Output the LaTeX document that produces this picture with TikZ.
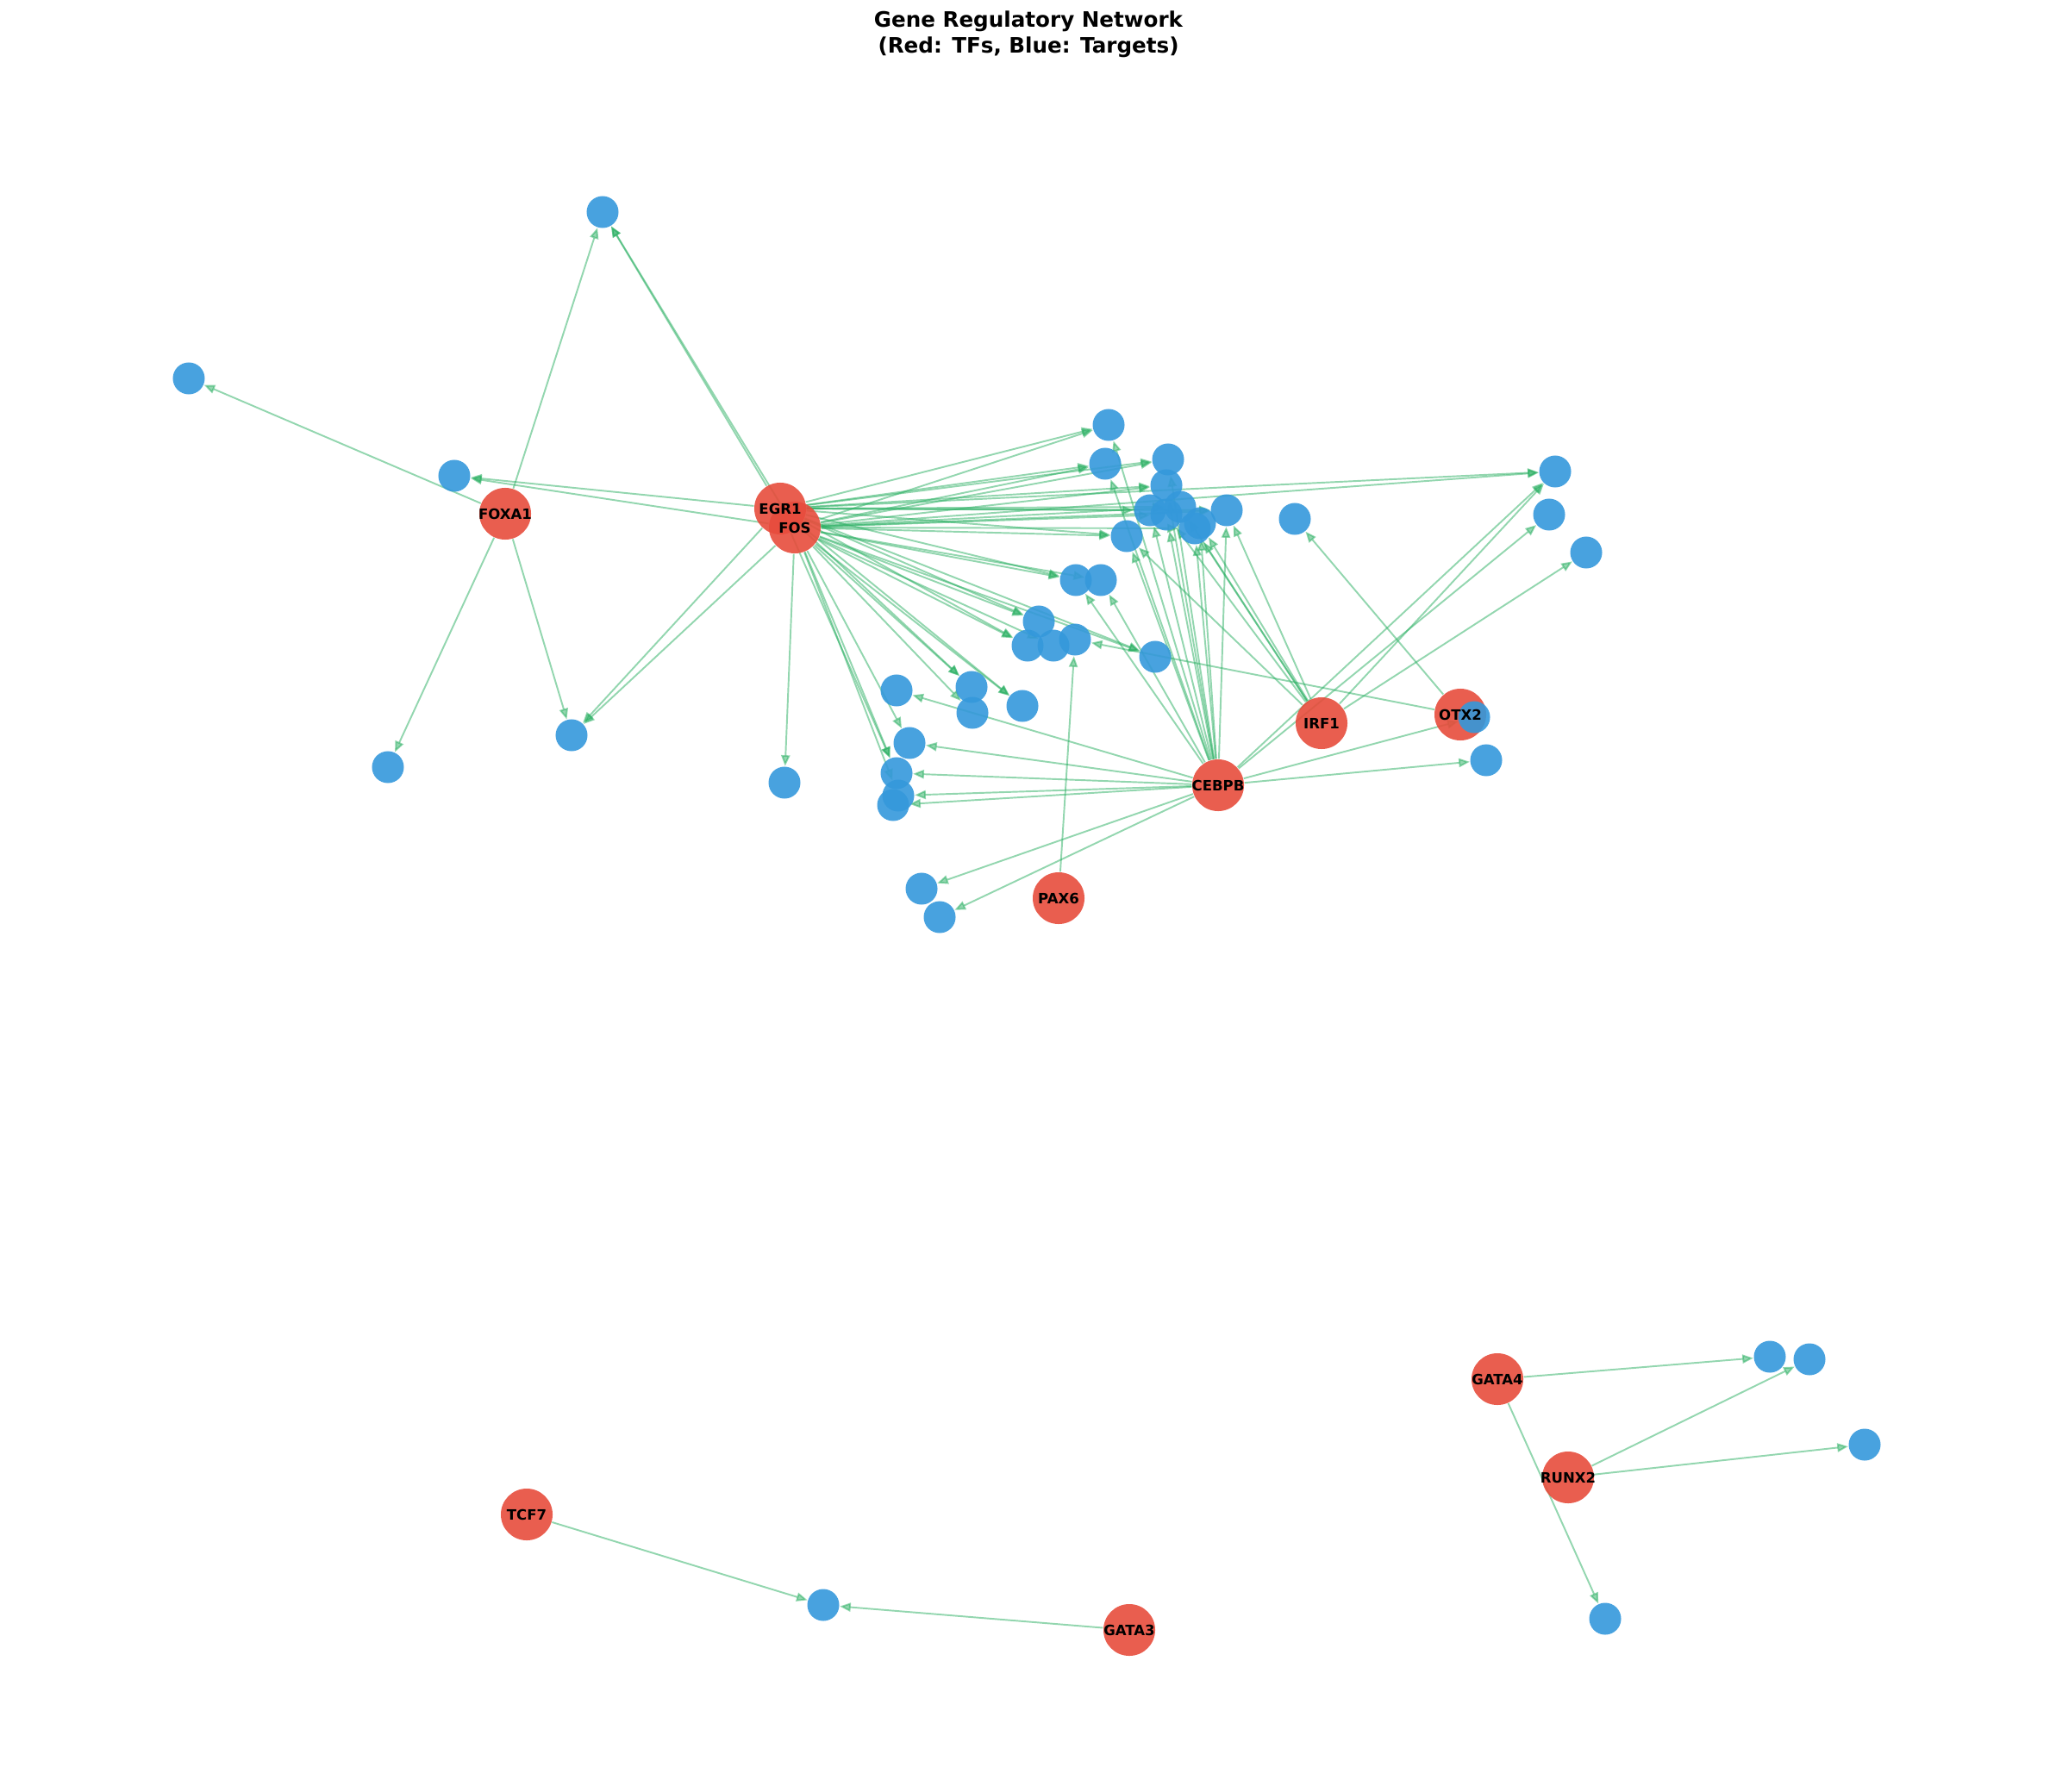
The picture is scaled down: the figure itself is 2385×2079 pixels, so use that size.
\documentclass[tikz,border=0pt]{standalone}
\usepackage{fontspec}
\setmainfont{DejaVu Sans}
\usetikzlibrary{arrows.meta,backgrounds}

\definecolor{tfred}{RGB}{231,76,60}
\definecolor{tgtblue}{RGB}{52,152,219}
\definecolor{edgegreen}{RGB}{39,174,96}

\begin{document}
\begin{tikzpicture}[x=0.01cm,y=-0.01cm,->,>={Triangle[length=3.6pt,width=2.9pt]},
    every edge/.style={draw,edgegreen,opacity=0.5,line width=0.55pt}]
        \tikzstyle{tf}=[circle, fill=tfred, fill opacity=0.9, minimum size=0.6cm, inner sep=0pt]
        \tikzstyle{target}=[circle, fill=tgtblue, fill opacity=0.9, minimum size=0.37cm, inner sep=0pt]
        \tikzstyle{tflabel}=[font=\fontsize{4.7}{5}\selectfont\bfseries, text=black, inner sep=0pt]

        \useasboundingbox (0,0) rectangle (2385,2079);
        \node[font=\fontsize{7}{8.6}\selectfont\bfseries, align=center] (title) at (1193,40)
            {Gene Regulatory Network\\(Red: TFs, Blue: Targets)};

        % transcription factors
        \node[tf] (EGR1)  at (905,590)   {};
        \node[tf] (FOS)   at (922,612)   {};
        \node[tf] (FOXA1) at (586,596)   {};
        \node[tf] (CEBPB) at (1413,911)  {};
        \node[tf] (IRF1)  at (1533,839)  {};
        \node[tf] (OTX2)  at (1694,829)  {};
        \node[tf] (PAX6)  at (1228,1042) {};
        \node[tf] (GATA4) at (1737,1600) {};
        \node[tf] (RUNX2) at (1819,1714) {};
        \node[tf] (TCF7)  at (611,1757)  {};
        \node[tf] (GATA3) at (1310,1891) {};

        % targets
        \node[target] (t1)  at (699,246)   {};
        \node[target] (t2)  at (219,439)   {};
        \node[target] (t3)  at (527,552)   {};
        \node[target] (t4)  at (450,890)   {};
        \node[target] (t5)  at (663,853)   {};
        \node[target] (t6)  at (910,908)   {};
        \node[target] (t7)  at (1286,493)  {};
        \node[target] (t8)  at (1282,538)  {};
        \node[target] (t9)  at (1355,533)  {};
        \node[target] (t10) at (1353,563)  {};
        \node[target] (t11) at (1334,592)  {};
        \node[target] (t12) at (1369,588)  {};
        \node[target] (t13) at (1353,597)  {};
        \node[target] (t14) at (1386,613)  {};
        \node[target] (t15) at (1392,607)  {};
        \node[target] (t16) at (1423,592)  {};
        \node[target] (t17) at (1307,622)  {};
        \node[target] (t18) at (1502,602)  {};
        \node[target] (t19) at (1804,547)  {};
        \node[target] (t20) at (1797,597)  {};
        \node[target] (t21) at (1840,641)  {};
        \node[target] (t22) at (1248,673)  {};
        \node[target] (t23) at (1277,673)  {};
        \node[target] (t24) at (1205,721)  {};
        \node[target] (t25) at (1192,749)  {};
        \node[target] (t26) at (1222,749)  {};
        \node[target] (t27) at (1247,742)  {};
        \node[target] (t28) at (1340,762)  {};
        \node[target] (t29) at (1040,801)  {};
        \node[target] (t30) at (1127,797)  {};
        \node[target] (t31) at (1128,827)  {};
        \node[target] (t32) at (1186,819)  {};
        \node[target] (t33) at (1055,862)  {};
        \node[target] (t34) at (1040,897)  {};
        \node[target] (t35) at (1042,923)  {};
        \node[target] (t36) at (1036,934)  {};
        \node[target] (t37) at (1069,1031) {};
        \node[target] (t38) at (1090,1064) {};
        \node[target] (t39) at (1710,832)  {};
        \node[target] (t40) at (1724,882)  {};
        \node[target] (t41) at (2053,1574) {};
        \node[target] (t42) at (2099,1577) {};
        \node[target] (t43) at (2163,1676) {};
        \node[target] (t44) at (1862,1878) {};
        \node[target] (t45) at (955,1862)  {};

        % labels on top
        \foreach \g in {EGR1,FOS,FOXA1,CEBPB,IRF1,OTX2,PAX6,GATA4,RUNX2,TCF7,GATA3}
            \node[tflabel] (l\g) at (\g) {\g};

        \begin{scope}[on background layer]
        \path (EGR1) edge (t1) edge (t3) edge (t5) edge (t7) edge (t8) edge (t9)
                     edge (t10) edge (t11) edge (t12) edge (t16) edge (t17) edge (t19)
                     edge (t22) edge (t24) edge (t25) edge (t28) edge (t30) edge (t32)
                     edge (t34)
              (FOS)  edge (t1) edge (t3) edge (t5) edge (t6) edge (t7) edge (t8)
                     edge (t9) edge (t10) edge (t12) edge (t13) edge (t14) edge (t16)
                     edge (t17) edge (t19) edge (t22) edge (t23) edge (t24) edge (t25)
                     edge (t26) edge (t28) edge (t30) edge (t31) edge (t32) edge (t33)
                     edge (t34) edge (t35)
              (FOXA1) edge (t1) edge (t2) edge (t4) edge (t5)
              (CEBPB) edge (t7) edge (t8) edge (t9) edge (t10) edge (t11) edge (t13)
                     edge (t14) edge (t15) edge (t16) edge (t17) edge (t22) edge (t23)
                     edge (t29) edge (t33) edge (t34) edge (t35) edge (t36) edge (t37)
                     edge (t38) edge (t19) edge (t20) edge (t39) edge (t40)
              (IRF1) edge (t12) edge (t13) edge (t14) edge (t15) edge (t16) edge (t17)
                     edge (t19) edge (t21)
              (OTX2) edge (t18) edge (t27)
              (PAX6) edge (t27)
              (GATA4) edge (t41) edge (t44)
              (RUNX2) edge (t42) edge (t43)
              (TCF7) edge (t45)
              (GATA3) edge (t45);
        \end{scope}
      \end{tikzpicture}
\end{document}
